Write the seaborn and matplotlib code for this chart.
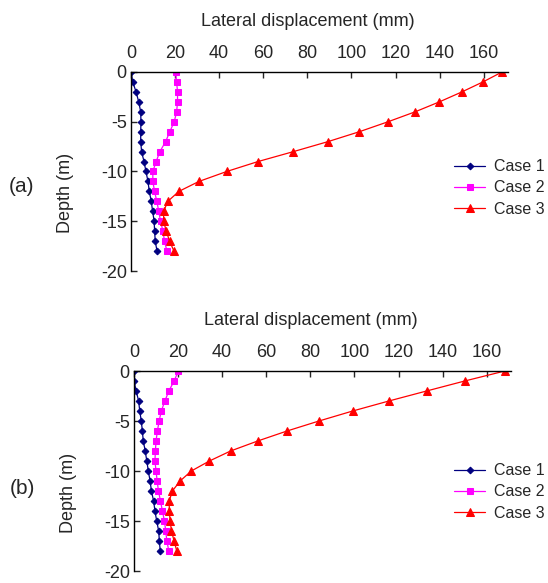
import numpy as np
import pandas as pd
import matplotlib
matplotlib.use("Agg")
import matplotlib.pyplot as plt
import seaborn as sns

depth = [0, -1, -2, -3, -4, -5, -6, -7, -8, -9, -10, -11, -12, -13, -14, -15, -16, -17, -18]

# (a)
a_case1 = [0, 0.8, 2.3, 3.5, 4.4, 4.5, 4.4, 4.4, 4.8, 5.9, 6.8, 7.7, 8.3, 9.2, 9.8, 10.5, 10.7, 11.0, 11.8]
a_case2 = [20.2, 20.7, 21.1, 21.1, 20.7, 19.6, 17.6, 15.7, 13.1, 11.4, 9.9, 9.9, 10.7, 11.7, 12.6, 13.4, 14.5, 15.2, 16.3]
a_case3 = [168.3, 159.6, 150.1, 139.9, 128.9, 116.6, 103.6, 89.3, 73.7, 57.6, 43.4, 30.8, 21.7, 16.7, 14.8, 14.8, 16.0, 17.5, 19.5]

# (b)
b_case1 = [0, 0, 1.0, 2.1, 2.6, 3.3, 3.8, 4.2, 5.1, 5.8, 6.5, 7.3, 7.9, 8.9, 9.5, 10.3, 11.2, 11.5, 11.9]
b_case2 = [20.1, 18.2, 15.8, 14.0, 12.4, 11.4, 10.6, 10.0, 9.7, 9.5, 10.0, 10.5, 11.1, 12.0, 12.9, 13.8, 14.4, 14.9, 15.8]
b_case3 = [168.2, 150.0, 132.7, 115.6, 99.2, 83.9, 69.4, 56.1, 43.8, 34.2, 26.0, 20.9, 17.4, 16.0, 16.0, 16.4, 17.0, 18.2, 19.4]

case_names = ["Case 1", "Case 2", "Case 3"]
x_ticks = [0, 20, 40, 60, 80, 100, 120, 140, 160]
y_ticks = [0, -5, -10, -15, -20]

sns.set_style("ticks")
plt.rcParams["font.family"] = ["Liberation Sans", "DejaVu Sans"]
plt.rcParams["axes.unicode_minus"] = False

styles = {
    "Case 1": dict(color="#000080", marker="D", markersize=3.4),
    "Case 2": dict(color="#FF00FF", marker="s", markersize=5),
    "Case 3": dict(color="#FF0000", marker="^", markersize=6),
}

fig = plt.figure(figsize=(5.48, 5.83), dpi=100)
ax_a = fig.add_axes([131 / 548, 1 - 271 / 583, 377 / 548, 199 / 583])
ax_b = fig.add_axes([134 / 548, 1 - 571 / 583, 377 / 548, 200 / 583])

panels = [
    (ax_a, [a_case1, a_case2, a_case3], "(a)", 186, 188),
    (ax_b, [b_case1, b_case2, b_case3], "(b)", 488, 492),
]

for ax, series, tag, tag_y, leg_y in panels:
    for name, vals in zip(case_names, series):
        df = pd.DataFrame({"disp": vals, "depth": depth})
        st = styles[name]
        sns.lineplot(data=df, x="disp", y="depth", sort=False, estimator=None, ax=ax,
                     color=st["color"], marker=st["marker"], markersize=st["markersize"],
                     markeredgecolor=st["color"], linewidth=0.9, label=name)
    ax.set_xlim(0, 171)
    ax.set_ylim(-20, 0)
    ax.xaxis.tick_top()
    ax.xaxis.set_label_position("top")
    ax.set_xticks(x_ticks)
    ax.set_yticks(y_ticks)
    ax.tick_params(axis="x", direction="in", length=4, width=1, pad=7.5, labelsize=13)
    ax.tick_params(axis="y", direction="in", length=4, width=1, pad=3, labelsize=13)
    for s in ["right", "bottom"]:
        ax.spines[s].set_visible(False)
    for s in ["left", "top"]:
        ax.spines[s].set_linewidth(1)
        ax.spines[s].set_color("black")
    ax.set_xlabel("Lateral displacement (mm)", fontsize=13)
    ax.xaxis.set_label_coords(0.47, 1.0 + 46 / 200)
    ax.set_ylabel("Depth (m)", fontsize=13)
    ax.yaxis.set_label_coords(-57 / 377, 0.39)
    fig.text(22 / 548, 1 - tag_y / 583, tag, fontsize=15, ha="center", va="center")
    ax.legend(loc="center left", bbox_to_anchor=(440 / 548, 1 - leg_y / 583),
              bbox_transform=fig.transFigure, frameon=False, fontsize=11.5,
              handlelength=1.9, handletextpad=0.55, labelspacing=0.4)

fig.savefig("out.png", dpi=100)
